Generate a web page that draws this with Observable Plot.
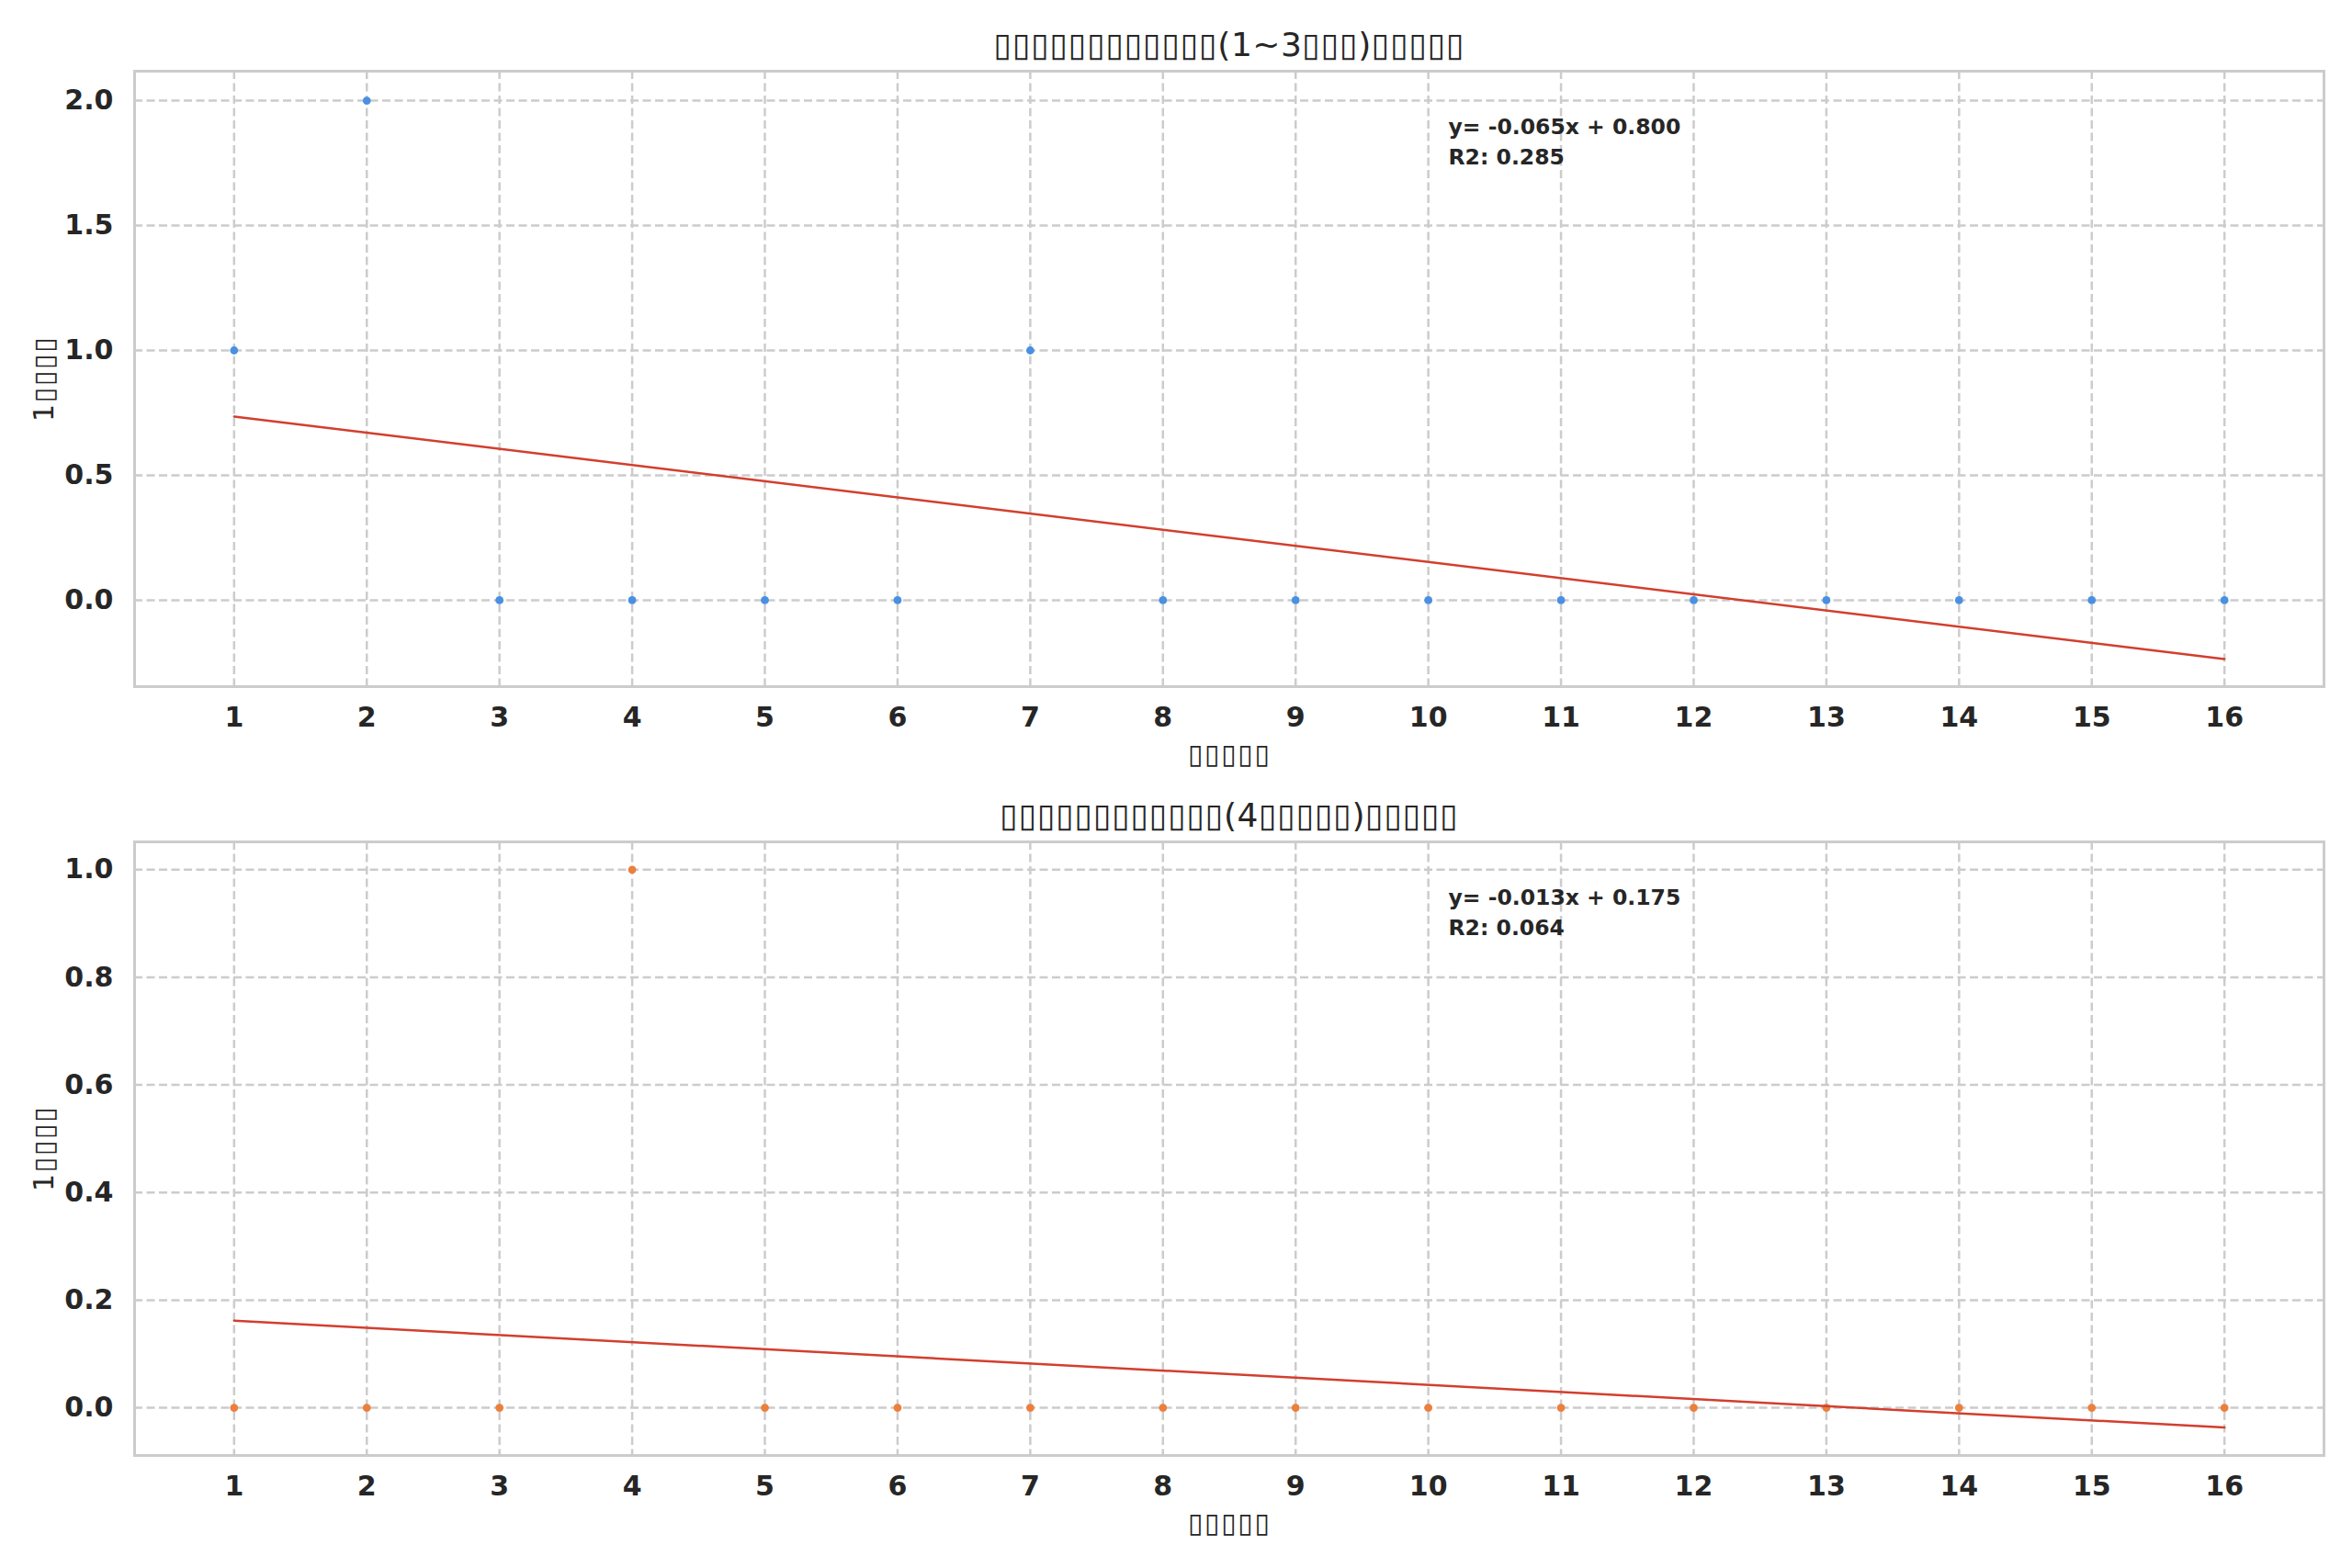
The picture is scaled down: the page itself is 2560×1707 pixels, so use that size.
<!DOCTYPE html>
<html>
<head>
<meta charset="utf-8">
<script src="https://cdn.jsdelivr.net/npm/d3@7"></script>
<script src="https://cdn.jsdelivr.net/npm/@observablehq/plot@0.6"></script>
<style>
  html, body { margin: 0; padding: 0; background: #ffffff; }
  #chart svg { display: block; }
  text.lbl-box { letter-spacing: 1.6px; }
  text.ttl-box { letter-spacing: 0.5px; }
</style>
</head>
<body>
<div id="chart"></div>
<script>
// ---- data ----
const sessions = [1, 2, 3, 4, 5, 6, 7, 8, 9, 10, 11, 12, 13, 14, 15, 16];
const rateGroupA = [1, 2, 0, 0, 0, 0, 1, 0, 0, 0, 0, 0, 0, 0, 0, 0];   // (1~3...)
const rateGroupB = [0, 0, 0, 1, 0, 0, 0, 0, 0, 0, 0, 0, 0, 0, 0, 0];   // (4...)

const titles = ["▯▯▯▯▯▯▯▯▯▯▯▯(1~3▯▯▯)▯▯▯▯▯", "▯▯▯▯▯▯▯▯▯▯▯▯(4▯▯▯▯▯)▯▯▯▯▯"];
const xLabel = "▯▯▯▯▯";
const yLabel = "1▯▯▯▯";
const equations = ["y= -0.065x + 0.800", "y= -0.013x + 0.175"];
const r2Labels = ["R2: 0.285", "R2: 0.064"];
const yTicksA = [0, 0.5, 1.0, 1.5, 2.0];
const yTicksB = [0, 0.2, 0.4, 0.6, 0.8, 1.0];

const TEXT = "#262626";
const GRID = "#cccccc";

function panel({values, color, title, yDomain, yTicks, eq, r2, height, marginTop, marginBottom}) {
  const data = sessions.map((s, i) => ({session: s, rate: values[i]}));
  const svg = Plot.plot({
    width: 2560,
    height,
    marginTop,
    marginBottom,
    marginLeft: 146,
    marginRight: 31,
    style: {fontFamily: "'DejaVu Sans', sans-serif", background: "#ffffff", color: TEXT, overflow: "visible"},
    x: {domain: [0.25, 16.75]},
    y: {domain: yDomain},
    marks: [
      Plot.gridX(sessions, {stroke: GRID, strokeOpacity: 1, strokeWidth: 2.5, strokeDasharray: "9,4.5"}),
      Plot.gridY(yTicks, {stroke: GRID, strokeOpacity: 1, strokeWidth: 2.5, strokeDasharray: "9,4.5"}),
      Plot.frame({stroke: GRID, strokeWidth: 3}),
      Plot.axisX(sessions, {tickSize: 0, tickPadding: 22, fontSize: 30, fontWeight: "bold", fill: TEXT, label: null, tickFormat: d => String(d)}),
      Plot.axisY(yTicks, {tickSize: 0, tickPadding: 23, fontSize: 30, fontWeight: "bold", fill: TEXT, label: null, tickFormat: d3.format(".1f")}),
      Plot.dot(data, {x: "session", y: "rate", r: 4.4, fill: color}),
      Plot.linearRegressionY(data, {x: "session", y: "rate", ci: 0, stroke: "#d23f2e", strokeWidth: 2.5}),
      Plot.text([`${eq}\n${r2}`], {frameAnchor: "top-left", dx: 1430, dy: 45.5, lineAnchor: "top", textAnchor: "start", fontSize: 23.5, fontWeight: "bold", lineHeight: 1.4, fill: TEXT}),
      Plot.text([title], {frameAnchor: "top", dy: -28, lineAnchor: "middle", textAnchor: "middle", fontSize: 36, fill: TEXT, className: "ttl"}),
      Plot.text([xLabel], {frameAnchor: "bottom", dy: 62, lineAnchor: "top", textAnchor: "middle", fontSize: 30, fill: TEXT, className: "xlbl"}),
      Plot.text([yLabel], {frameAnchor: "left", dx: -98, rotate: -90, lineAnchor: "middle", textAnchor: "middle", fontSize: 30, fill: TEXT, className: "ylbl"})
    ]
  });
  d3.select(svg).selectAll(".ttl text").classed("ttl-box", true);
  d3.select(svg).selectAll(".xlbl text, .ylbl text").classed("lbl-box", true);
  return svg;
}

const root = document.getElementById("chart");
root.append(panel({
  values: rateGroupA, color: "#4a90e2", title: titles[0],
  yDomain: [-0.346, 2.118], yTicks: yTicksA, eq: equations[0], r2: r2Labels[0],
  height: 853, marginTop: 77, marginBottom: 106
}));
root.append(panel({
  values: rateGroupB, color: "#eb803e", title: titles[1],
  yDomain: [-0.0887, 1.0518], yTicks: yTicksB, eq: equations[1], r2: r2Labels[1],
  height: 854, marginTop: 63, marginBottom: 123
}));
</script>
</body>
</html>
